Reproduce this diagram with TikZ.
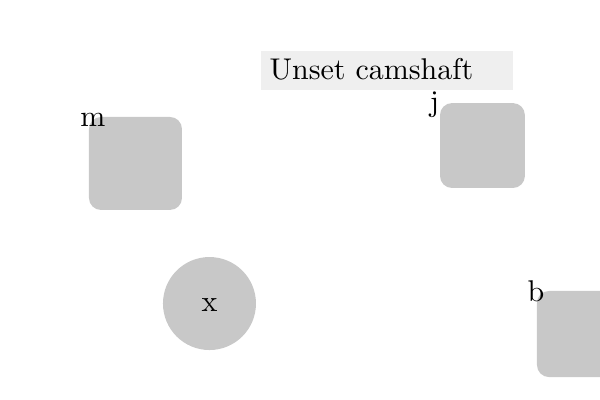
\documentclass[tikz,border=0pt]{standalone}
\begin{document}
\begin{tikzpicture}[blockbox/.style={fill=cccccc,rounded corners=4pt,inner sep=0pt},
tagtext/.style={inner sep=0pt}]
\definecolor{cccccc}{rgb}{0.784,0.784,0.784}
\definecolor{efefef}{rgb}{0.937,0.937,0.937}
\useasboundingbox (0.,0.) rectangle (7.029,4.686);
\node (title) [anchor=north west,fill=efefef,text width=78pt,inner xsep=3pt,inner ysep=2pt,text height=7.6pt,text depth=1.4pt,align=left] at (3.046,4.100) {Unset camshaft};
\node (m) [blockbox,minimum size=31pt] at (1.587,2.771) {};
\node (j) [blockbox,minimum size=28.3pt] at (5.652,2.981) {};
\node (b) [blockbox,minimum size=28.7pt] at (6.795,0.773) {};
\node (x) [circle,fill=cccccc,inner sep=0pt,minimum size=31pt,text height=5.3pt] at (2.454,1.130) {x};
\node (mtag) [tagtext] at (1.089,3.286) {m};
\node (jtag) [tagtext] at (5.090,3.462) {j};
\node (btag) [tagtext] at (6.279,1.277) {b};
\end{tikzpicture}
\end{document}
